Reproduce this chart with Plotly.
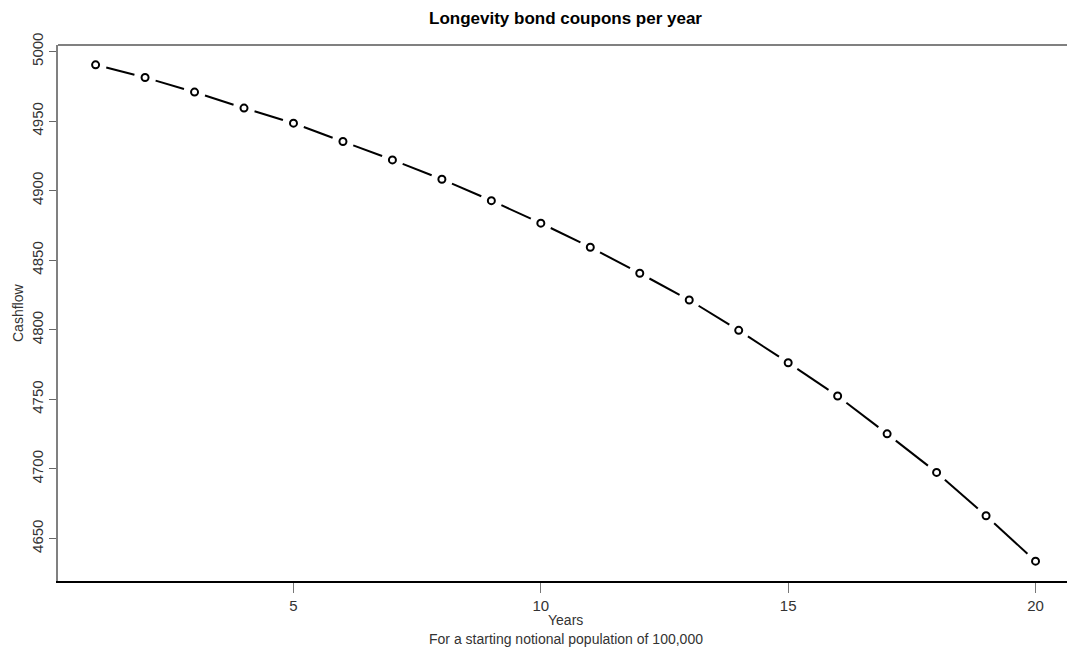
import math
import plotly.graph_objects as go

# Annual coupon cashflows for the longevity bond
years = list(range(1, 21))
cashflow = [4990.4, 4981.3, 4970.8, 4959.3, 4948.5, 4935.3, 4922.1, 4908.2,
            4892.8, 4876.6, 4859.3, 4840.6, 4821.4, 4799.6, 4776.3, 4752.4,
            4725.2, 4697.5, 4666.3, 4633.7]

x_ticks = [5, 10, 15, 20]
y_ticks = [4650, 4700, 4750, 4800, 4850, 4900, 4950, 5000]

title_text = "Longevity bond coupons per year"
x_title = "Years"
x_subtitle = "For a starting notional population of 100,000"
y_title = "Cashflow"

FONT = "Liberation Sans, Arial, sans-serif"

W, H = 1067, 652
L, T, B = 58, 45, 71
plot_w, plot_h = W - L, H - T - B

# padded ranges (4% either side of the data)
xpad = 0.04 * (max(years) - min(years))
ypad = 0.04 * (max(cashflow) - min(cashflow))
x_lo = min(years) - xpad
x_hi_full = max(years) + xpad
y_range = [min(cashflow) - ypad, max(cashflow) + ypad]

# the plotting region runs a little past the right edge of the page
x_px_per_unit = 49.47
x_hi = x_lo + plot_w / x_px_per_unit
y_px_per_unit = plot_h / (y_range[1] - y_range[0])

# "both" style: segments between points, stopping short of each point
GAP_PX = 11
seg_x, seg_y = [], []
for i in range(len(years) - 1):
    x0, y0, x1, y1 = years[i], cashflow[i], years[i + 1], cashflow[i + 1]
    dxp = (x1 - x0) * x_px_per_unit
    dyp = (y1 - y0) * y_px_per_unit
    d = math.hypot(dxp, dyp)
    f = GAP_PX / d
    seg_x += [x0 + (x1 - x0) * f, x1 - (x1 - x0) * f, None]
    seg_y += [y0 + (y1 - y0) * f, y1 - (y1 - y0) * f, None]

fig = go.Figure()
fig.add_trace(go.Scatter(x=seg_x, y=seg_y, mode="lines",
                         line=dict(color="black", width=2),
                         hoverinfo="skip", showlegend=False))
fig.add_trace(go.Scatter(x=years, y=cashflow, mode="markers",
                         marker=dict(symbol="circle-open", size=7, color="black",
                                     line=dict(width=2, color="black")),
                         showlegend=False))

fig.update_layout(
    width=W, height=H,
    margin=dict(l=L, r=0, t=T, b=B),
    paper_bgcolor="white", plot_bgcolor="white",
    font=dict(family=FONT, color="#222"),
    xaxis=dict(range=[x_lo, x_hi], tickvals=x_ticks, ticktext=[str(v) for v in x_ticks],
               showgrid=False, zeroline=False,
               showline=True, linecolor="black", linewidth=1.5,
               ticks="outside", ticklen=10, tickwidth=1, tickcolor="#777",
               tickfont=dict(family=FONT, size=15, color="#333")),
    yaxis=dict(range=y_range, tickvals=y_ticks, ticktext=[str(v) for v in y_ticks],
               showgrid=False, zeroline=False,
               showline=True, linecolor="#808080", linewidth=2,
               ticks="outside", ticklen=7, tickwidth=1, tickcolor="#666",
               tickangle=-90,
               tickfont=dict(family=FONT, size=15, color="#333")),
    shapes=[dict(type="line", xref="paper", yref="paper", x0=0, x1=1, y0=1, y1=1,
                 line=dict(color="#808080", width=2))],
)

x_mid = (x_lo + x_hi_full) / 2
fig.add_annotation(text="<b>" + title_text + "</b>", xref="x", yref="paper",
                   x=x_mid, y=1, yshift=27, yanchor="middle", xanchor="center",
                   showarrow=False,
                   font=dict(family=FONT, size=17, color="black"))
fig.add_annotation(text=x_title, xref="x", yref="paper", x=x_mid, y=0, yshift=-39,
                   yanchor="middle", xanchor="center",
                   showarrow=False, font=dict(family=FONT, size=14, color="#333"))
fig.add_annotation(text=x_subtitle, xref="x", yref="paper", x=x_mid, y=0, yshift=-58,
                   yanchor="middle", xanchor="center",
                   showarrow=False, font=dict(family=FONT, size=14, color="#333"))
fig.add_annotation(text=y_title, xref="paper", yref="paper", x=0, xshift=-40, y=0.5,
                   xanchor="center", yanchor="middle",
                   textangle=-90, showarrow=False,
                   font=dict(family=FONT, size=14, color="#333"))

fig.write_html("out.html")
